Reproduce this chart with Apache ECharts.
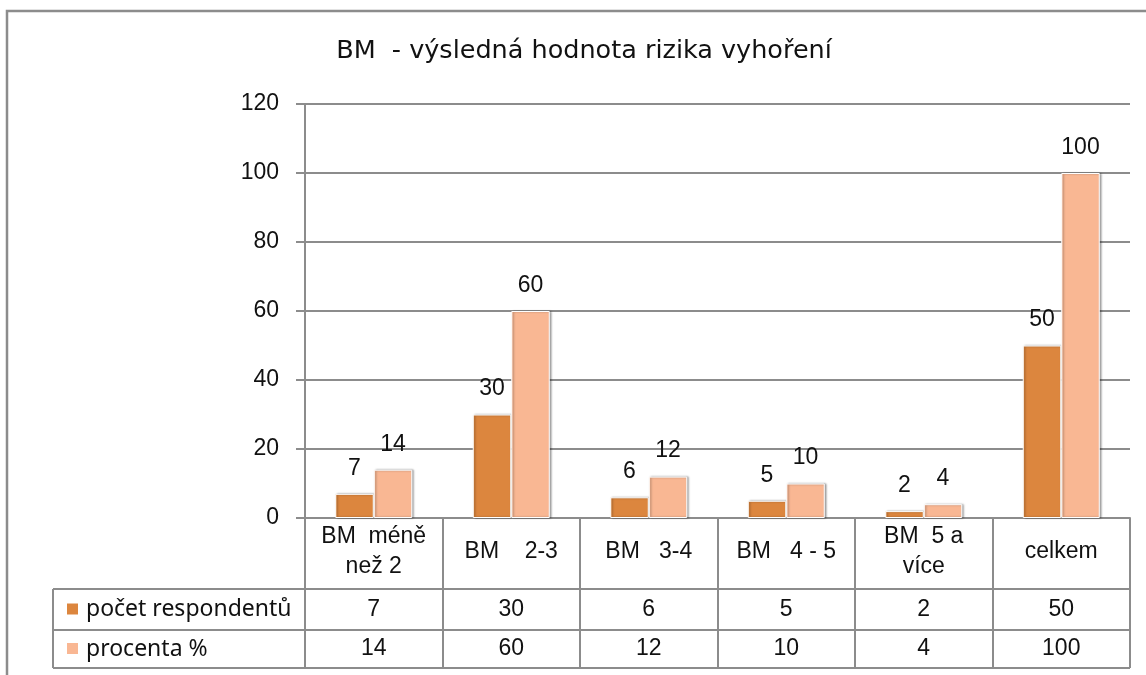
<!DOCTYPE html>
<html>
<head>
<meta charset="utf-8">
<script src="https://cdn.jsdelivr.net/npm/echarts@6/dist/echarts.min.js"></script>
<style>
html,body{margin:0;padding:0;background:#fff;}
#chart{width:1146px;height:675px;}
</style>
</head>
<body>
<div id="chart"></div>
<script>
const titleText = 'BM  - výsledná hodnota rizika vyhoření';
const categories = ['BM  méně\nnež 2', 'BM    2-3', 'BM   3-4', 'BM   4 - 5', 'BM  5 a\nvíce', 'celkem'];
const seriesNames = ['počet respondentů', 'procenta %'];
const respondents = [7, 30, 6, 5, 2, 50];
const percent = [14, 60, 12, 10, 4, 100];
const yMin = 0, yMax = 120, yInterval = 20;
const colors = ['#DC863E', '#F9B793'];

const LINE = '#8c8c8c';
const FONT = 'Liberation Sans';
const gridL = 305, gridR = 1130, gridT = 104, gridB = 518;
const rowLines = [589, 630, 668];
const tableLeft = 53;

const chart = echarts.init(document.getElementById('chart'), null, {renderer: 'canvas'});

const seriesData = [respondents, percent];

chart.setOption({
  animation: false,
  backgroundColor: '#fff',
  title: {
    text: titleText,
    left: 584,
    top: 38,
    textAlign: 'center',
    padding: 0,
    textStyle: {fontFamily: 'DejaVu Sans', fontSize: 25.5, fontWeight: 'normal', color: '#111'}
  },
  grid: {left: gridL, right: 1146 - gridR, top: gridT, bottom: 675 - gridB, containLabel: false, outerBoundsMode: 'none'},
  xAxis: {
    type: 'category',
    data: categories,
    axisLine: {show: true, lineStyle: {color: LINE, width: 2}},
    axisTick: {show: true, length: rowLines[2] - gridB, lineStyle: {color: LINE, width: 2}},
    axisLabel: {
      show: true, interval: 0, margin: 34, verticalAlign: 'middle', color: '#111',
      fontFamily: FONT, fontSize: 23, lineHeight: 30, align: 'center'
    },
    splitLine: {show: false}
  },
  yAxis: {
    type: 'value', min: yMin, max: yMax, interval: yInterval,
    axisLine: {show: true, lineStyle: {color: LINE, width: 2}},
    axisTick: {show: true, inside: false, length: 9, lineStyle: {color: LINE, width: 2}},
    axisLabel: {margin: 26, color: '#111', fontFamily: FONT, fontSize: 23},
    splitLine: {show: true, lineStyle: {color: LINE, width: 2}}
  },
  series: seriesNames.map((name, i) => ({
    name: name,
    type: 'bar',
    data: seriesData[i],
    barGap: '0%',
    barCategoryGap: '44%',
    itemStyle: {
      color: colors[i], borderColor: '#fff', borderWidth: 1,
      shadowColor: 'rgba(0,0,0,0.35)', shadowBlur: 2, shadowOffsetX: 1.5, shadowOffsetY: 0
    },
    label: {
      show: true, position: 'top', distance: 14, color: '#111',
      fontFamily: FONT, fontSize: 23
    }
  }))
});

// Data table below the axis, built from the same arrays
const p0 = chart.convertToPixel({xAxisIndex: 0}, 0);
const p1 = chart.convertToPixel({xAxisIndex: 0}, 1);
const band = p1 - p0;
const rightX = chart.convertToPixel({xAxisIndex: 0}, categories.length - 1) + band / 2;

const g = [];
g.push({type: 'polyline', shape: {points: [[7, 675], [7, 11], [1146, 11]]}, style: {stroke: LINE, lineWidth: 2.5, fill: null}, silent: true});
rowLines.forEach(y => {
  g.push({type: 'line', shape: {x1: tableLeft, y1: y, x2: rightX, y2: y}, style: {stroke: LINE, lineWidth: 2}, silent: true});
});
g.push({type: 'line', shape: {x1: tableLeft, y1: rowLines[0], x2: tableLeft, y2: rowLines[2]}, style: {stroke: LINE, lineWidth: 2}, silent: true});

seriesNames.forEach((name, r) => {
  const cy = (rowLines[r] + rowLines[r + 1]) / 2;
  g.push({type: 'rect', shape: {x: 67, y: cy - 6, width: 11, height: 11}, style: {fill: colors[r]}, silent: true});
  g.push({type: 'text', x: 86, y: cy, style: {text: name, fontFamily: 'Noto Sans', fontSize: 23, fill: '#111', align: 'left', verticalAlign: 'middle', textAlign: 'left', textVerticalAlign: 'middle'}, silent: true});
  seriesData[r].forEach((v, i) => {
    const cx = chart.convertToPixel({xAxisIndex: 0}, i);
    g.push({type: 'text', x: cx, y: cy, style: {text: String(v), fontFamily: FONT, fontSize: 23, fill: '#111', align: 'center', verticalAlign: 'middle', textAlign: 'center', textVerticalAlign: 'middle'}, silent: true});
  });
});

chart.setOption({graphic: {elements: g}});
</script>
</body>
</html>
